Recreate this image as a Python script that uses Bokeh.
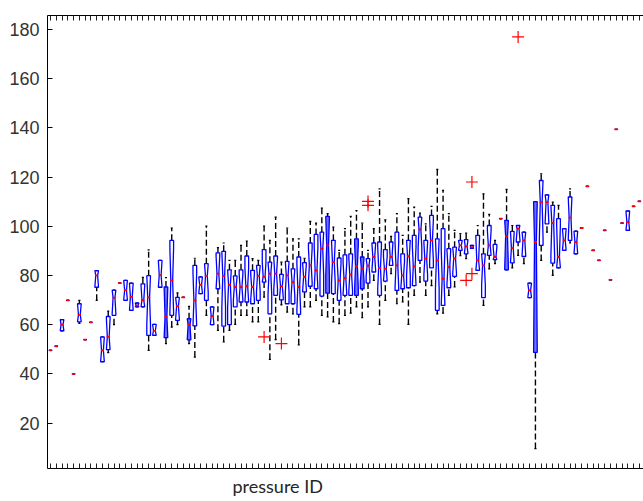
import math
from bokeh.plotting import figure
from bokeh.models import Range1d, LinearAxis, FixedTicker, Title
from bokeh.embed import file_html
from bokeh.resources import INLINE

# ---- data ----
ids = list(range(1, 105))
whisker_low = [49.5, 51.2, 57.5, 69.9, 40, 60.5, 53.9, 60.9, 69.9, 44.9,
               48.6, 60, 76.9, 69.9, 65.8, 67.2, 67.2, 49.5, 55.6, 75.2,
               52.3, 59, 60, 71.1, 52.3, 46.8, 72.6, 63.8, 60, 57.7,
               53, 57.7, 60.1, 63.8, 63.8, 61.1, 61.1, 71.2, 45.9, 53.9,
               68, 65.1, 64.4, 51.8, 67.2, 67.2, 69.9, 63.8, 63.1, 61.1,
               60.4, 63.8, 64.7, 67.2, 62.8, 67.2, 78, 60.1, 69.9, 80.7,
               68.5, 69.2, 60.1, 71.9, 77.3, 71.9, 75.9, 64.4, 64.7, 71.9,
               75.3, 88, 86.8, 91, 82.1, 67.8, 82.7, 84.8, 103.1, 82.3,
               83.1, 88.2, 84.8, 71, 9.6, 86.1, 97.6, 80, 83.1, 90.2,
               93.2, 88.8, 99.3, 116.2, 90.2, 86.1, 98.3, 78.2, 139.4, 101.3,
               98.3, 108.1, 110.1, 113.3]
q1 = [49.5, 51.2, 57.5, 69.9, 40, 61.1, 53.9, 60.9, 75.2, 44.9,
      49.8, 63.8, 76.9, 69.9, 65.8, 67.2, 67.2, 55.6, 55.6, 75.2,
      54.7, 63.8, 61.7, 71.1, 53.8, 59.5, 72.6, 69.9, 60, 74.6,
      59.4, 60, 67.2, 69.2, 69.2, 68.5, 69.9, 77.3, 64.4, 71.9,
      70.1, 68.5, 68.5, 64.2, 73.3, 75.6, 74.6, 71.6, 72.8, 72.6,
      69.9, 71.9, 71.9, 71.9, 74.6, 76.9, 81.4, 71.9, 77.7, 84.1,
      73.9, 74.6, 75, 75.9, 86.1, 77.7, 83.1, 65.8, 67.8, 75,
      79.6, 90.2, 88.8, 91, 82.1, 71, 88.2, 86.4, 103.1, 82.3,
      85.1, 93.6, 87.7, 71, 48.7, 92.2, 101, 85, 83.1, 90.2,
      94.3, 88.8, 99.3, 116.2, 90.2, 86.1, 98.3, 78.2, 139.4, 101.3,
      98.3, 108.1, 110.1, 113.3]
median = [49.5, 51.2, 60, 69.9, 40, 64, 53.9, 60.9, 80, 49.5,
          55, 71, 76.9, 74, 71.3, 67.8, 70, 71.1, 57.5, 80.1,
          63.1, 78, 67.5, 71.1, 60, 69.9, 76.2, 79.8, 63.5, 80.7,
          79.8, 76.2, 75.3, 75.3, 75.6, 75.3, 79.8, 79.4, 80.7, 80.7,
          75.6, 80, 77.3, 75.3, 79.4, 84.1, 82.1, 90.9, 92.2, 85.4,
          78, 78.9, 80.3, 83.7, 82.7, 84, 87.5, 83.1, 82.7, 87.5,
          84.1, 80, 87.8, 83.7, 98.7, 86.8, 94.3, 86.1, 78.7, 83.4,
          86.8, 92.2, 91.8, 91.5, 86.1, 84.1, 92.2, 87.5, 103.1, 95.9,
          91.1, 99, 94.3, 73.9, 93.6, 109.8, 109.8, 101.3, 87.5, 94.3,
          103.5, 93.6, 99.3, 116.2, 90.2, 86.1, 98.3, 78.2, 139.4, 101.3,
          101.7, 108.1, 110.1, 113.3]
q3 = [49.5, 51.2, 62, 69.9, 40, 68.5, 53.9, 60.9, 82, 55,
      63.3, 74, 76.9, 78, 76.9, 68.8, 76.6, 79.9, 60.1, 86.1,
      75.3, 94.3, 71.1, 71.1, 62.4, 84.1, 79.4, 84.8, 67.2, 89.2,
      89.8, 82.3, 79.8, 82.3, 87.9, 82.1, 84.1, 90.5, 85.4, 87.9,
      80.4, 85.7, 82.7, 87.5, 85.2, 93.2, 96.7, 97.6, 104, 94.3,
      87.1, 88.4, 88.8, 94.9, 87.5, 86.8, 93.2, 93.6, 90.5, 93.6,
      97.6, 88.8, 94.3, 96.3, 103.7, 94.3, 104.4, 94.9, 99, 90.9,
      91.5, 94.3, 94.6, 92.2, 96.3, 88.8, 100.3, 92.6, 103.1, 102.4,
      97.9, 100.3, 97.6, 76.9, 110, 118.6, 112.8, 108.5, 103.1, 99,
      111.9, 98, 99.3, 116.2, 90.2, 86.1, 98.3, 78.2, 139.4, 101.3,
      106.2, 108.1, 110.1, 113.3]
whisker_high = [49.5, 51.2, 62, 69.9, 40, 69.9, 53.9, 60.9, 82, 55,
                65.5, 74, 76.9, 78, 76.9, 68.8, 79.2, 90.4, 60.1, 86.1,
                79.1, 99.3, 72.9, 71.1, 67.4, 87, 79.4, 100.1, 67.2, 91.3,
                93.2, 86.1, 86.1, 92.2, 94, 86.8, 86.1, 100.1, 94.3, 103.7,
                85.4, 99.3, 94.9, 94.9, 87, 102, 101.3, 107.4, 105.1, 99.7,
                90.2, 99, 104, 106.4, 101.3, 90.2, 99, 115.2, 102.6, 95.9,
                105.1, 96.3, 111.2, 107.8, 105.4, 101, 108.1, 123.1, 114.6, 105.1,
                98.3, 97, 97.2, 92.2, 100.3, 113.2, 104.8, 94.3, 103.1, 115,
                100.3, 100.3, 97.6, 76.9, 110, 121.3, 112.8, 109.8, 108.5, 99,
                115.2, 98, 99.3, 116.2, 90.2, 86.1, 98.3, 78.2, 139.4, 101.3,
                106.2, 108.1, 110.1, 113.3]
n_obs = [1, 1, 4, 1, 1, 6, 1, 1, 5, 6,
         8, 6, 1, 6, 8, 3, 6, 12, 4, 5,
         7, 14, 8, 1, 4, 12, 4, 12, 6, 10,
         14, 14, 14, 16, 16, 16, 12, 12, 16, 16,
         12, 16, 16, 16, 12, 16, 14, 14, 16, 16,
         16, 16, 16, 16, 16, 14, 12, 16, 16, 6,
         16, 16, 16, 16, 14, 16, 16, 16, 16, 14,
         10, 5, 5, 3, 6, 12, 10, 6, 1, 6,
         8, 5, 6, 4, 3, 8, 5, 8, 6, 5,
         6, 5, 1, 1, 1, 1, 1, 1, 1, 1,
         4, 1, 1, 1]
outlier_id = [38, 41, 56, 56, 73, 74, 74, 82]
outlier_val = [55, 52.3, 108.5, 110.1, 78, 118, 80.7, 177]
y_ticks = [20, 40, 60, 80, 100, 120, 140, 160, 180]
x_label = "pressure ID"

# boxes whose notch lines crowd the whole box (drawn as solid)
solid_ids = [21, 25, 49, 54, 55, 80, 85]

# ---- figure ----
p = figure(width=643, height=501, output_backend="svg", toolbar_location=None,
           x_range=Range1d(0.48, 103.72), y_range=Range1d(1.5, 185.7),
           min_border_left=47, min_border_right=0, min_border_top=15,
           min_border_bottom=33, background_fill_color="white",
           border_fill_color="white")
p.outline_line_color = None
p.xgrid.visible = False
p.ygrid.visible = False

def style_x(ax):
    ax.ticker = FixedTicker(ticks=ids)
    ax.major_tick_in = 5
    ax.major_tick_out = 0
    ax.minor_tick_line_color = None
    ax.major_label_text_font_size = "0px"
    ax.major_label_text_color = None
    ax.major_label_standoff = 0
    ax.axis_line_color = "black"
    ax.major_tick_line_color = "#202020"
    ax.axis_line_width = 1

style_x(p.xaxis[0])
top_axis = LinearAxis()
style_x(top_axis)
p.add_layout(top_axis, "above")

ya = p.yaxis[0]
ya.ticker = FixedTicker(ticks=y_ticks)
ya.major_tick_in = 5
ya.major_tick_out = 0
ya.minor_tick_line_color = None
ya.major_label_standoff = 8
ya.major_label_text_font = "Liberation Sans"
ya.major_label_text_font_size = "18px"
ya.major_label_text_color = "#333333"
ya.axis_line_color = "black"
ya.major_tick_line_color = "black"

title = Title(text=x_label, align="left", offset=185, text_font="Lato",
              text_font_size="18px", text_font_style="normal",
              text_color="#262626", standoff=9)
p.add_layout(title, "below")

# ---- glyphs ----
W = 0.32
CAP = 0.18
dash = "6 3"
p.segment(x0=ids, y0=q3, x1=ids, y1=whisker_high, line_color="black",
          line_width=1.4, line_dash=dash)
p.segment(x0=ids, y0=whisker_low, x1=ids, y1=q1, line_color="black",
          line_width=1.4, line_dash=dash)
p.segment(x0=[i - CAP for i in ids], y0=whisker_high,
          x1=[i + CAP for i in ids], y1=whisker_high, line_color="black", line_width=1.2)
p.segment(x0=[i - CAP for i in ids], y0=whisker_low,
          x1=[i + CAP for i in ids], y1=whisker_low, line_color="black", line_width=1.2)

box_xs, box_ys, alphas = [], [], []
for x, lo, md, hi, n in zip(ids, q1, median, q3, n_obs):
    h = 1.57 * (hi - lo) / math.sqrt(n)
    nlo, nhi = max(lo, md - h), min(hi, md + h)
    box_xs.append([x - W, x - W, x - W / 2, x - W, x - W,
                   x + W, x + W, x + W / 2, x + W, x + W])
    box_ys.append([lo, nlo, md, nhi, hi, hi, nhi, md, nlo, lo])
    alphas.append(0.85 if x in solid_ids else 0.0)
p.patches(box_xs, box_ys, fill_color="#5a5aff", fill_alpha=alphas,
          line_color="#0000ff", line_width=1.3)

MW = 0.27
p.segment(x0=[i - MW for i in ids], y0=median, x1=[i + MW for i in ids],
          y1=median, line_color="#ff0000", line_width=1.8)

p.scatter(outlier_id, outlier_val, marker="cross", size=12,
          line_color="#ff0000", line_width=1.2)

open("out.html", "w").write(file_html(p, INLINE))
